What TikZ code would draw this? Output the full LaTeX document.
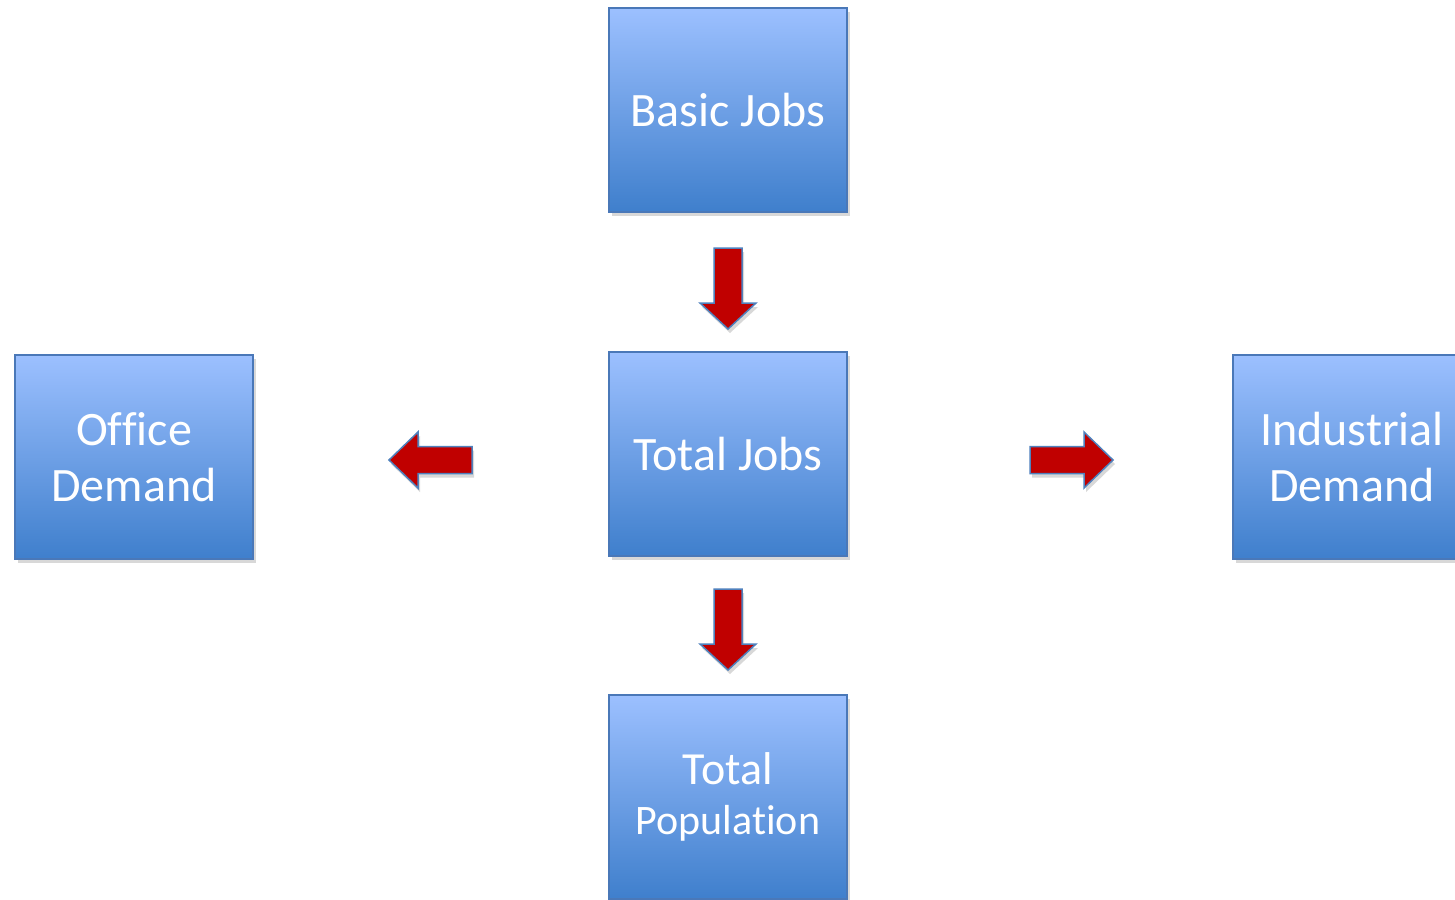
\documentclass[tikz,border=0pt]{standalone}
\usepackage{fontspec}
\setmainfont{Carlito}[Ligatures=NoCommon]
\usetikzlibrary{shadows}
\definecolor{boxtop}{HTML}{9CC0FF}
\definecolor{boxbot}{HTML}{3F7FCC}
\definecolor{boxline}{HTML}{4A78B8}
\definecolor{arrred}{HTML}{C00000}
\definecolor{arrline}{HTML}{4F81BD}
\tikzset{
  box/.style={draw=boxline, line width=1.2pt, top color=boxtop, bottom color=boxbot,
    minimum width=238pt, minimum height=204pt, inner sep=0pt, align=center,
    text=white, font=\fontsize{48}{56}\selectfont,
    drop shadow={shadow xshift=3pt, shadow yshift=-4pt, opacity=0.25, fill=black!60}},
  blockarrow/.style={draw=arrline, line width=1.5pt, fill=arrred, line join=miter,
    drop shadow={shadow xshift=2pt, shadow yshift=-4pt, opacity=0.25, fill=black!60}}
}
\begin{document}
\begin{tikzpicture}[x=1pt,y=-1pt]
\useasboundingbox (0,0) rectangle (1455,899);
\clip (0,0) rectangle (1455,899);
\fill[white] (0,0) rectangle (1455,899);
\node[box] (basic) at (728,110) {Basic Jobs};
\node[box] (total) at (728,454) {Total Jobs};
\node[box] (office) at (134,457) {Office\\Demand};
\node[box] (indus) at (1352,457) {Industrial\\Demand};
\node[box, font=\fontsize{46}{50}\selectfont] (pop) at (728,797) {Total\\{\fontsize{42}{50}\selectfont Population}};
% arrow Basic -> Total
\draw[blockarrow] (714,248) -- (714,303) -- (700,303) -- (728,329) -- (756,303) -- (742,303) -- (742,248) -- cycle;
% arrow Total -> Population
\draw[blockarrow] (714,589) -- (714,644) -- (700,644) -- (728,670) -- (756,644) -- (742,644) -- (742,589) -- cycle;
% arrow Total -> Office
\draw[blockarrow] (472,446.5) -- (418,446.5) -- (418,432) -- (389,460) -- (418,488) -- (418,473.5) -- (472,473.5) -- cycle;
% arrow Total -> Industrial
\draw[blockarrow] (1030,446.5) -- (1084,446.5) -- (1084,432) -- (1113,460) -- (1084,488) -- (1084,473.5) -- (1030,473.5) -- cycle;
\end{tikzpicture}
\end{document}
